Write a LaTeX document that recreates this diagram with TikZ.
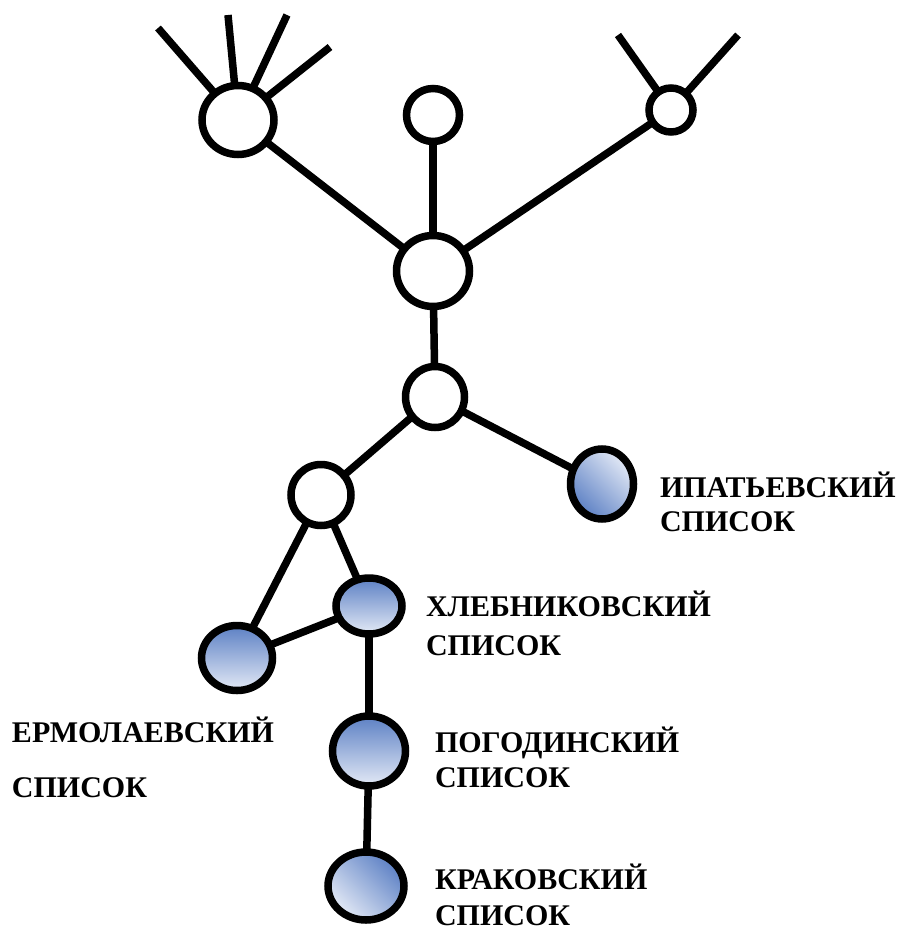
\documentclass[tikz,border=0pt]{standalone}
\usepackage{fontspec}
\setmainfont{Liberation Serif}
\usetikzlibrary{shapes.geometric}
\definecolor{nodeblue}{RGB}{92,128,196}
\definecolor{nodepale}{RGB}{228,234,246}
\begin{document}
\begin{tikzpicture}[x=1pt,y=-1pt,
  every node/.style={inner sep=0pt, outer sep=0pt},
  vert/.style={ellipse, draw=black, line width=7.5pt, fill=white},
  copy/.style={vert, top color=nodeblue, bottom color=nodepale, draw=black},
  link/.style={line width=7.5pt},
  caption/.style={anchor=base west, align=left, font=\bfseries\fontsize{30}{36}\selectfont}]
\useasboundingbox (0,0) rectangle (903,934);

% hypothetical ancestors (plain white circles)
\node[vert, minimum width=72pt, minimum height=69pt] (A) at (238,120) {};
\node[vert, minimum width=53pt, minimum height=53pt] (B) at (433,115) {};
\node[vert, minimum width=44pt, minimum height=44pt] (C) at (671,110) {};
\node[vert, minimum width=73pt, minimum height=71pt] (D) at (433,271) {};
\node[vert, minimum width=59pt, minimum height=61pt] (E) at (435,397) {};
\node[vert, minimum width=60pt, minimum height=61pt] (F) at (321,495) {};

% surviving manuscripts (shaded circles)
\node[copy, shading angle=135, minimum width=63pt, minimum height=70pt] (G) at (602,484) {};
\node[copy, minimum width=66pt, minimum height=56pt] (H) at (369,606) {};
\node[copy, minimum width=71pt, minimum height=65pt] (I) at (237,658) {};
\node[copy, minimum width=73pt, minimum height=70pt] (J) at (369,751) {};
\node[copy, shading angle=-45, minimum width=76pt, minimum height=68pt] (K) at (366,886) {};

% free ends of the lost branches
\coordinate (a1) at (158,28);
\coordinate (a2) at (228,15);
\coordinate (a3) at (287,15);
\coordinate (a4) at (330,47);
\coordinate (c1) at (618,35);
\coordinate (c2) at (738,35);

\draw[link] (a1) -- (A);
\draw[link] (a2) -- (A);
\draw[link] (a3) -- (A);
\draw[link] (a4) -- (A);
\draw[link] (c1) -- (C);
\draw[link] (c2) -- (C);

\draw[link] (A) -- (D);
\draw[link] (B) -- (D);
\draw[link] (C) -- (D);
\draw[link] (D) -- (E);
\draw[link] (E) -- (F);
\draw[link] (E) -- (G);
\draw[link] (F) -- (I);
\draw[link] (F) -- (H);
\draw[link] (I) -- (H);
\draw[link] (H) -- (J);
\draw[link] (J) -- (K);

% labels (anchored at the baseline of the second line)
\node[caption] (tG) at (660,531) {ИПАТЬЕВСКИЙ\\[-2pt]СПИСОК};
\node[caption] (tH) at (426,655) {ХЛЕБНИКОВСКИЙ\\[3pt]СПИСОК};
\node[caption] (tI) at (12,797) {ЕРМОЛАЕВСКИЙ\\[19pt]СПИСОК};
\node[caption] (tJ) at (435,787) {ПОГОДИНСКИЙ\\[-1pt]СПИСОК};
\node[caption] (tK) at (435,925) {КРАКОВСКИЙ\\[0pt]СПИСОК};
\end{tikzpicture}
\end{document}
